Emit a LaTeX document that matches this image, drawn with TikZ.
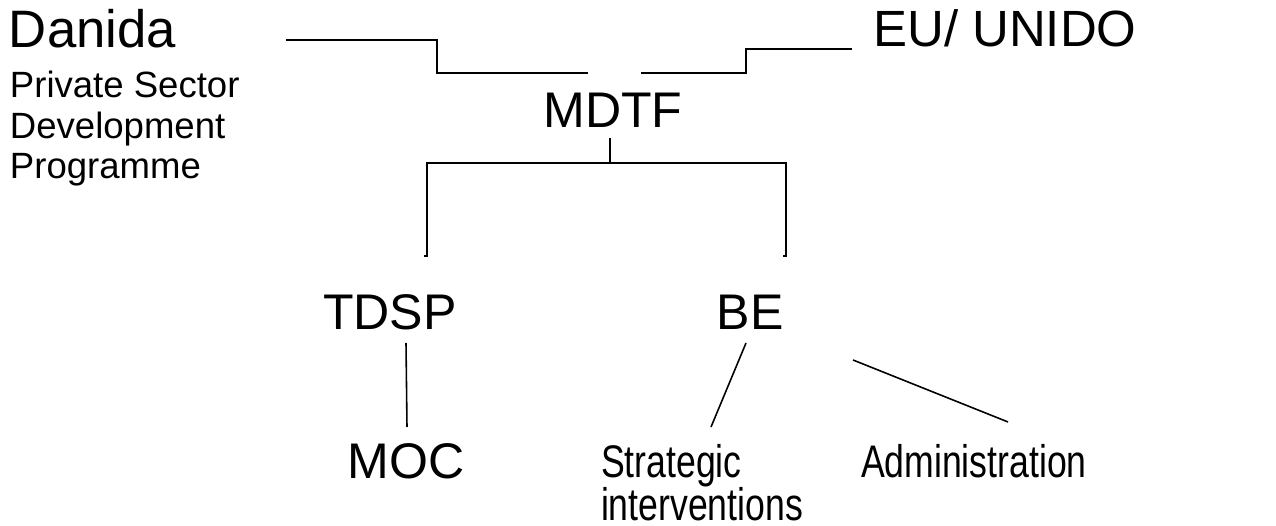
\documentclass[tikz,border=0pt]{standalone}
\usepackage{fontspec}
\setmainfont{Liberation Sans}
\newfontfamily\narrowfont[FakeStretch=0.78]{Liberation Sans}
\usetikzlibrary{positioning}

\begin{document}
\begin{tikzpicture}[x=0.02cm, y=-0.02cm, inner sep=0pt, outer sep=0pt]

% Styles
        \tikzstyle{big}=[font=\fontsize{28.5}{34}\selectfont, anchor=base]
        \tikzstyle{small}=[font=\fontsize{20.8}{23.3}\selectfont, align=left, anchor=base west]
        \tikzstyle{narrow}=[font=\narrowfont\fontsize{26}{24.5}\selectfont, align=left, anchor=base west]
        \tikzstyle{bracket}=[line width=1.2pt]
        \tikzstyle{link}=[line width=0.9pt]

        \useasboundingbox (0,0) rectangle (1276,526);

% Nodes
% Donors
        \node[big, anchor=base west, font=\fontsize{30}{34}\selectfont] (danida) at (9,48) {Danida};
        \node[small] (psdp) at (10,179) {Private Sector\\Development\\Programme};
        \node[big, font=\fontsize{29}{34}\selectfont] (eu) at (1005,47) {EU/ UNIDO};

% Fund
        \node[big] (mdtf) at (613,128) {MDTF};

% Programmes
        \node[big] (tdsp) at (390,330) {TDSP};
        \node[big] (be) at (750,330) {BE};

% Components
        \node[big] (moc) at (406,479) {MOC};
        \node[narrow] (strategic) at (601,521) {Strategic\\interventions};
        \node[narrow] (admin) at (861,478) {Administration};

% Line ends
        \coordinate (danida-end) at (286,40);
        \coordinate (mdtf-left) at (588,73);
        \coordinate (mdtf-right) at (641,73);
        \coordinate (eu-end) at (852,49);
        \coordinate (mdtf-stem) at (610,138);
        \coordinate (split) at (610,163);
        \coordinate (tdsp-top) at (427,256);
        \coordinate (be-top) at (786,256);
        \coordinate (tdsp-bot) at (406,343);
        \coordinate (moc-top) at (407,427);
        \coordinate (be-bot) at (746,343);
        \coordinate (strategic-top) at (711,427);
        \coordinate (be-right) at (853,360);
        \coordinate (admin-top) at (1008,422);

% Connections
% Donors to fund
        \draw[bracket] (danida-end) -- ++(151,0) |- (mdtf-left);
        \draw[bracket] (mdtf-right) -- ++(105,0) |- (eu-end);

% Fund to programmes
        \draw[bracket] (mdtf-stem) -- (split);
        \draw[bracket] ([xshift=-0.06cm]tdsp-top) -- (tdsp-top) -- (tdsp-top |- split) -- (be-top |- split) -- (be-top) -- ([xshift=-0.06cm]be-top);

% Programmes to components
        \draw[link] (tdsp-bot) -- (moc-top);
        \draw[link] (be-bot) -- (strategic-top);
        \draw[link] (be-right) -- (admin-top);

\end{tikzpicture}
\end{document}
